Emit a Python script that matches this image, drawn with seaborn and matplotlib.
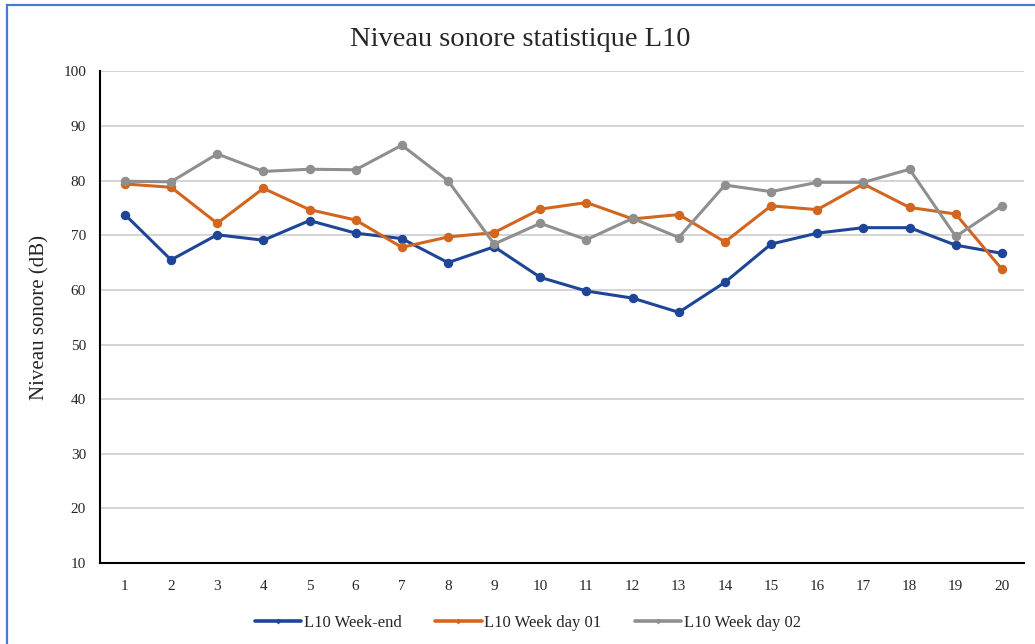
import matplotlib
matplotlib.use("Agg")
import matplotlib.pyplot as plt
import seaborn as sns
import pandas as pd
from matplotlib.lines import Line2D
from matplotlib.patches import Rectangle

# Measurement points and statistical level L10 (dB) for each campaign
points = list(range(1, 21))
week_end = [73.8, 65.5, 70.1, 69.1, 72.7, 70.4, 69.4, 65.0, 67.9, 62.3,
            59.8, 58.5, 55.9, 61.4, 68.4, 70.4, 71.4, 71.4, 68.2, 66.7]
week_day_01 = [79.4, 78.8, 72.2, 78.6, 74.7, 72.8, 67.8, 69.7, 70.5, 74.8,
               76.0, 73.0, 73.8, 68.8, 75.4, 74.7, 79.4, 75.1, 73.9, 63.8]
week_day_02 = [79.9, 79.8, 84.9, 81.7, 82.1, 82.0, 86.5, 80.0, 68.4, 72.2,
               69.2, 73.1, 69.6, 79.2, 78.0, 79.7, 79.7, 82.1, 69.8, 75.4]
series_names = ["L10 Week-end", "L10 Week day 01", "L10 Week day 02"]
colors = ["#1f4596", "#d2661f", "#8f8f8f"]
y_ticks = list(range(10, 101, 10))

df = pd.concat([
    pd.DataFrame({"point": points, "level": vals, "series": name})
    for name, vals in zip(series_names, [week_end, week_day_01, week_day_02])
])

sns.set_theme(style="white")
plt.rcParams["font.family"] = ["Liberation Serif", "DejaVu Serif"]

fig = plt.figure(figsize=(10.35, 6.44), dpi=100)
ax = fig.add_axes([0.0966, 0.1258, 0.8928, 0.7632])

sns.lineplot(data=df, x="point", y="level", hue="series",
             palette=dict(zip(series_names, colors)), marker="o",
             markersize=6.8, markeredgewidth=0, linewidth=2.2,
             legend=False, ax=ax, zorder=3)

ax.set_xlim(0.46, 20.48)
ax.set_ylim(10, 100)
ax.set_yticks(y_ticks)
ax.set_xticks(points)
ax.set_xticks([20.48], minor=True)
ax.set_xticklabels([str(p) for p in points], fontsize=11)
ax.set_yticklabels([str(v) for v in y_ticks], fontsize=11)
ax.tick_params(axis="both", which="both", direction="inout", length=8,
               width=1.3, color="black")
ax.tick_params(axis="x", pad=8)
ax.tick_params(axis="y", pad=6)

ax.yaxis.grid(True, color="#d4d4d4", linewidth=1.4)
ax.set_axisbelow(True)
for side in ["top", "right"]:
    ax.spines[side].set_visible(False)
for side in ["left", "bottom"]:
    ax.spines[side].set_color("black")
    ax.spines[side].set_linewidth(1.5)

ax.set_xlabel("")
ax.set_ylabel("Niveau sonore (dB)", fontsize=15, labelpad=10)
fig.text(0.503, 0.938, "Niveau sonore statistique L10", ha="center",
         va="center", fontsize=20.5)

handles = [Line2D([0], [0], color=c, linewidth=2.6, marker="D",
                  markersize=3, markeredgewidth=0) for c in colors]
fig.legend(handles, series_names, loc="center", bbox_to_anchor=(0.51, 0.033),
           ncol=3, frameon=False, fontsize=12, handlelength=2.8,
           handletextpad=0.15, columnspacing=2.0)

# Chart-area border along the top and left edges
fig.patches.append(Rectangle((7 / 1035, -0.05), 1.2, 1.05 - 5 / 644,
                             transform=fig.transFigure, fill=False,
                             edgecolor="#4a7bd0", linewidth=1.6))

fig.savefig("out.png", dpi=100)
